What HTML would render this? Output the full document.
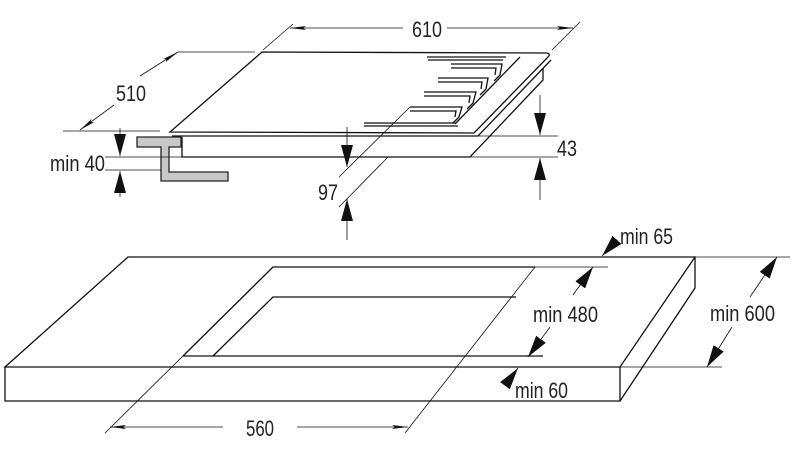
<!DOCTYPE html>
<html><head><meta charset="utf-8"><style>
html,body{margin:0;padding:0;background:#fff;}
svg{display:block;}
text{font-family:"Liberation Sans Narrow","Liberation Sans",sans-serif;font-size:22px;fill:#222;}
</style></head><body>
<svg width="800" height="458" viewBox="0 0 800 458" xmlns="http://www.w3.org/2000/svg">
<defs>
<marker id="a" viewBox="0 0 16 6" refX="16" refY="3" markerWidth="16" markerHeight="6" markerUnits="userSpaceOnUse" orient="auto">
<path d="M0,1 L16,3 L0,5 L3,3 Z" fill="#111"/>
</marker>
<marker id="b" viewBox="0 0 22 12" refX="22" refY="6" markerWidth="22" markerHeight="12" markerUnits="userSpaceOnUse" orient="auto">
<path d="M0,0 L22,6 L0,12 Z" fill="#111"/>
</marker>
</defs>
<g fill="none" stroke="#111" stroke-width="1.3">
<line x1="263" y1="50" x2="293" y2="24" stroke-width="0.8"/>
<line x1="552" y1="50" x2="580" y2="22" stroke-width="0.8"/>
<line x1="403" y1="28" x2="290" y2="28" stroke-width="0.8" marker-end="url(#a)"/>
<line x1="447" y1="28" x2="573" y2="28" stroke-width="0.8" marker-end="url(#a)"/>
<line x1="178" y1="52" x2="255" y2="52" stroke-width="0.8"/>
<line x1="63" y1="131" x2="160" y2="131" stroke-width="0.8"/>
<line x1="140" y1="76" x2="178" y2="52" stroke-width="0.8" marker-end="url(#a)"/>
<line x1="114" y1="105" x2="80" y2="130" stroke-width="0.8" marker-end="url(#a)"/>
<path d="M170,132 L262,52 L547,53 Q551,54 548,57 L474,133 Z"/>
<path d="M172,136 L478,136 L551,60"/>
<path d="M182,137 L182,157 L470,157 L543,80 L543,68"/>
<path d="M520,57 L455,124" />
<path d="M427,57 L506,57 M428,60 L503,60"/>
<path d="M451,64 L502,64 L500,75 L494,81 M451,68 L496,68 L495,75"/>
<path d="M438,78 L488,78 L486,89 L480,95 M438,82 L482,82 L481,89"/>
<path d="M424,92 L476,92 L473,103 L467,109 M424,96 L470,96 L469,103"/>
<path d="M410,107 L462,107 L459,117 L453,123 M410,111 L456,111 L455,117"/>
<path d="M364,123 L456,123 M364,126 L458,126"/>
<path d="M137,137 L181,137 L181,147 L169,147 L169,172 L228,172 L228,181 L161,181 L161,147 L137,147 Z" fill="#c8c8c8" stroke="#222"/>
<line x1="105" y1="157" x2="182" y2="157" stroke-width="0.8"/>
<line x1="105" y1="170" x2="161" y2="170" stroke-width="0.8"/>
<line x1="120" y1="128" x2="120" y2="156" stroke-width="0.8" marker-end="url(#b)"/>
<line x1="120" y1="197" x2="120" y2="171" stroke-width="0.8" marker-end="url(#b)"/>
<line x1="478" y1="136" x2="558" y2="136" stroke-width="0.8"/>
<line x1="470" y1="157" x2="558" y2="157" stroke-width="0.8"/>
<line x1="540" y1="95" x2="540" y2="135" stroke-width="0.8" marker-end="url(#b)"/>
<line x1="540" y1="200" x2="540" y2="158" stroke-width="0.8" marker-end="url(#b)"/>
<line x1="339" y1="177" x2="410" y2="107" stroke-width="0.8"/>
<line x1="339" y1="207" x2="388" y2="157" stroke-width="0.8"/>
<line x1="347" y1="127" x2="347" y2="167" stroke-width="0.8" marker-end="url(#b)"/>
<line x1="347" y1="240" x2="347" y2="199" stroke-width="0.8" marker-end="url(#b)"/>
<path d="M128,257 L695,257 L620,367 L5,367 Z"/>
<path d="M5,367 L5,401 L620,401 L620,367"/>
<path d="M695,257 L695,288 L620,401"/>
<path d="M183,356 L273,267 L535,267"/>
<path d="M213,356 L273,297 L516,297"/>
<line x1="183" y1="356" x2="543" y2="356"/>
<line x1="273" y1="267" x2="105" y2="433" stroke-width="0.8"/>
<line x1="535" y1="267" x2="405" y2="433" stroke-width="0.8"/>
<line x1="535" y1="267" x2="608" y2="267" stroke-width="0.8"/>
<line x1="223" y1="427" x2="110" y2="427" stroke-width="0.8" marker-end="url(#a)"/>
<line x1="297" y1="427" x2="408" y2="427" stroke-width="0.8" marker-end="url(#a)"/>
<line x1="573" y1="295" x2="593" y2="267" stroke-width="0.8" marker-end="url(#b)"/>
<line x1="550" y1="327" x2="528" y2="357" stroke-width="0.8" marker-end="url(#b)"/>
<line x1="695" y1="257" x2="790" y2="257" stroke-width="0.8"/>
<line x1="620" y1="367" x2="722" y2="367" stroke-width="0.8"/>
<line x1="750" y1="297" x2="777" y2="257" stroke-width="0.8" marker-end="url(#b)"/>
<line x1="732" y1="327" x2="707" y2="367" stroke-width="0.8" marker-end="url(#b)"/>
<line x1="615" y1="242" x2="602" y2="256" stroke-width="0.8" marker-end="url(#b)"/>
<line x1="507" y1="383" x2="518" y2="368" stroke-width="0.8" marker-end="url(#b)"/>
</g>
<g>
<text x="412" y="37" textLength="30" lengthAdjust="spacingAndGlyphs">610</text>
<text x="116" y="101" textLength="30" lengthAdjust="spacingAndGlyphs">510</text>
<text x="50" y="171" textLength="55" lengthAdjust="spacingAndGlyphs">min 40</text>
<text x="557" y="156" textLength="20" lengthAdjust="spacingAndGlyphs">43</text>
<text x="318" y="200" textLength="20" lengthAdjust="spacingAndGlyphs">97</text>
<text x="620" y="244" textLength="53" lengthAdjust="spacingAndGlyphs">min 65</text>
<text x="533" y="322" textLength="65" lengthAdjust="spacingAndGlyphs">min 480</text>
<text x="710" y="321" textLength="65" lengthAdjust="spacingAndGlyphs">min 600</text>
<text x="515" y="398" textLength="53" lengthAdjust="spacingAndGlyphs">min 60</text>
<text x="246" y="436" textLength="28" lengthAdjust="spacingAndGlyphs">560</text>
</g>
</svg>
</body></html>
